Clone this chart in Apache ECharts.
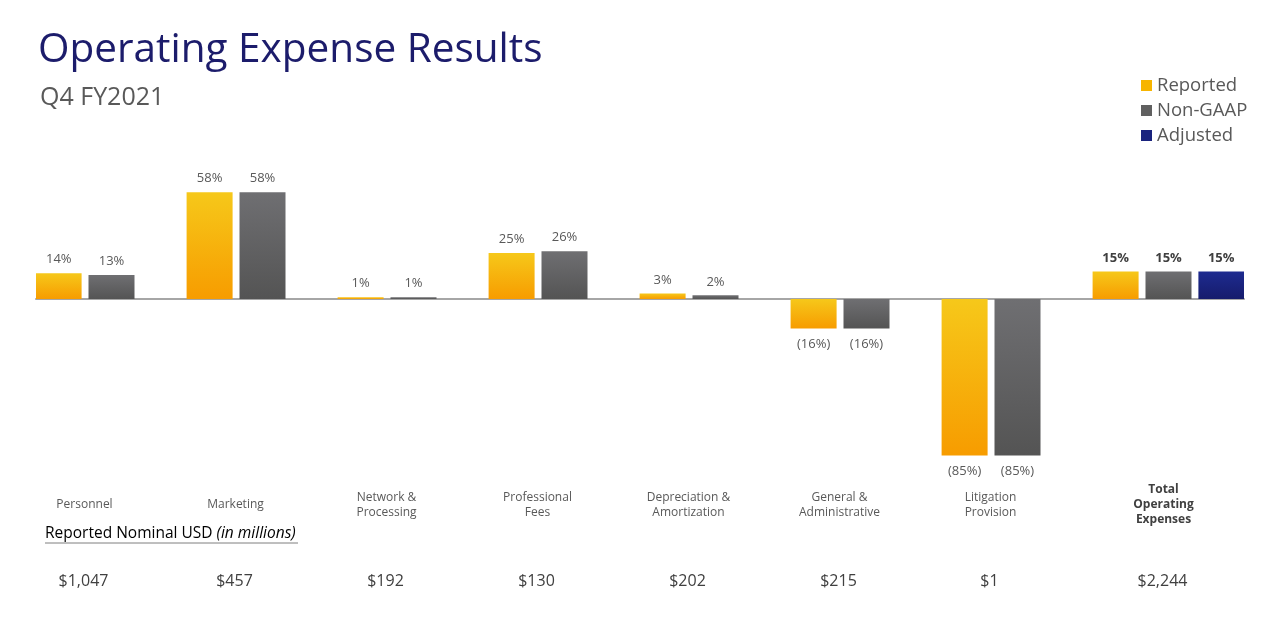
<!DOCTYPE html>
<html>
<head>
<meta charset="utf-8">
<script src="https://cdn.jsdelivr.net/npm/echarts@6/dist/echarts.min.js"></script>
<style>
html,body{margin:0;padding:0;background:#fff;}
#chart{width:1280px;height:617px;}
</style>
</head>
<body>
<div id="chart"></div>
<script>
// ---- data ----
var categories = ['Personnel', 'Marketing', 'Network &\nProcessing', 'Professional\nFees',
  'Depreciation &\nAmortization', 'General &\nAdministrative', 'Litigation\nProvision',
  'Total\nOperating\nExpenses'];
var reported = [14, 58, 1, 25, 3, -16, -85, 15];
var nonGaap = [13, 58, 1, 26, 2, -16, -85, 15];
var adjusted = [null, null, null, null, null, null, null, 15];
var nominalUSD = ['$1,047', '$457', '$192', '$130', '$202', '$215', '$1', '$2,244'];

// ---- styles ----
var FONT = 'Open Sans';
var TOTAL_INDEX = categories.length - 1;
function grad(top, bottom) {
  return new echarts.graphic.LinearGradient(0, 0, 0, 1, [
    { offset: 0, color: top }, { offset: 1, color: bottom }]);
}
function pctLabel(p) {
  var v = p.value;
  if (v === null || v === undefined) return '';
  return v < 0 ? '(' + Math.abs(v) + '%)' : v + '%';
}
function barLabel() {
  return {
    show: true,
    position: 'top',
    distance: 7,
    fontFamily: FONT,
    fontSize: 13,
    color: '#595959',
    formatter: function (p) {
      var t = pctLabel(p);
      if (!t) return '';
      return p.dataIndex === TOTAL_INDEX ? '{b|' + t + '}' : t;
    },
    rich: { b: { fontFamily: FONT, fontSize: 13, fontWeight: 'bold', color: '#404040' } }
  };
}
function seriesData(arr) {
  return arr.map(function (v) {
    if (v === null) return null;
    return v < 0 ? { value: v, label: { position: 'bottom', distance: 9 } } : v;
  });
}

var chart = echarts.init(document.getElementById('chart'));
chart.setOption({
  animation: false,
  backgroundColor: '#ffffff',
  title: [
    { text: 'Operating Expense Results', left: 33, top: 25,
      textStyle: { fontFamily: FONT, fontSize: 40.5, fontWeight: 'normal', color: '#1c1c6b' } },
    { text: 'Q4 FY2021', left: 35, top: 80,
      textStyle: { fontFamily: FONT, fontSize: 25, fontWeight: 'normal', color: '#595959' } }
  ],
  legend: {
    orient: 'vertical',
    left: 1141, top: 76,
    padding: 0,
    itemWidth: 11, itemHeight: 11, itemGap: 6,
    icon: 'rect',
    textStyle: { fontFamily: FONT, fontSize: 18.5, color: '#595959' },
    data: [
      { name: 'Reported', itemStyle: { color: '#f7b500' } },
      { name: 'Non-GAAP', itemStyle: { color: '#606060' } },
      { name: 'Adjusted', itemStyle: { color: '#1a237e' } }
    ]
  },
  grid: { left: 36, right: 36, top: 115, bottom: 134 },
  yAxis: { type: 'value', min: -100, max: 100, show: false },
  xAxis: [
    { type: 'category', data: categories,
      axisLine: { onZero: true, lineStyle: { color: '#a6a6a6', width: 2 } },
      axisTick: { show: false }, axisLabel: { show: false } },
    { type: 'category', data: categories, position: 'bottom',
      axisLine: { show: false }, axisTick: { show: false },
      axisLabel: {
        interval: 0, margin: 22, verticalAlign: 'middle',
        formatter: function (v, i) {
          var tag = i === TOTAL_INDEX ? 'b' : 'n';
          return v.split('\n').map(function (l) { return '{' + tag + '|' + l + '}'; }).join('\n');
        },
        rich: {
          n: { fontFamily: FONT, fontSize: 12, color: '#595959', lineHeight: 15, padding: [0, 54, 0, 0] },
          b: { fontFamily: FONT, fontSize: 12, fontWeight: 'bold', color: '#404040', lineHeight: 15, padding: [0, 10, 0, 0] }
        }
      } },
    { type: 'category', data: categories, position: 'bottom', offset: 75,
      axisLine: { show: false }, axisTick: { show: false },
      axisLabel: {
        interval: 0, margin: 23, verticalAlign: 'middle',
        formatter: function (v, i) {
          return '{' + (i === TOTAL_INDEX ? 't' : 'd') + '|' + nominalUSD[i] + '}';
        },
        rich: {
          d: { fontFamily: FONT, fontSize: 16, color: '#404040', padding: [0, 56, 0, 0] },
          t: { fontFamily: FONT, fontSize: 16, color: '#404040', padding: [0, 12, 0, 0] }
        }
      } }
  ],
  graphic: [
    { type: 'text', left: 45, top: 526,
      style: {
        text: '{r|Reported Nominal USD }{i|(in millions)}',
        rich: {
          r: { fontFamily: FONT, fontSize: 15.5, color: '#595959' },
          i: { fontFamily: FONT, fontSize: 15.5, fontStyle: 'italic', color: '#595959' }
        }
      } },
    { type: 'line', shape: { x1: 45, y1: 543, x2: 298, y2: 543 },
      style: { stroke: '#7f7f7f', lineWidth: 1 } }
  ],
  series: [
    { name: 'Reported', type: 'bar', xAxisIndex: 0, barWidth: 46, barGap: '15%', barCategoryGap: '0%',
      data: seriesData(reported),
      itemStyle: { color: grad('#f6c81a', '#f79c00') },
      label: barLabel() },
    { name: 'Non-GAAP', type: 'bar', xAxisIndex: 0, barWidth: 46, barGap: '15%',
      data: seriesData(nonGaap),
      itemStyle: { color: grad('#6f6f72', '#545454') },
      label: barLabel() },
    { name: 'Adjusted', type: 'bar', xAxisIndex: 0, barWidth: 46, barGap: '15%',
      data: seriesData(adjusted),
      itemStyle: { color: grad('#1e2b90', '#161c6c') },
      label: barLabel() }
  ]
});
</script>
</body>
</html>
